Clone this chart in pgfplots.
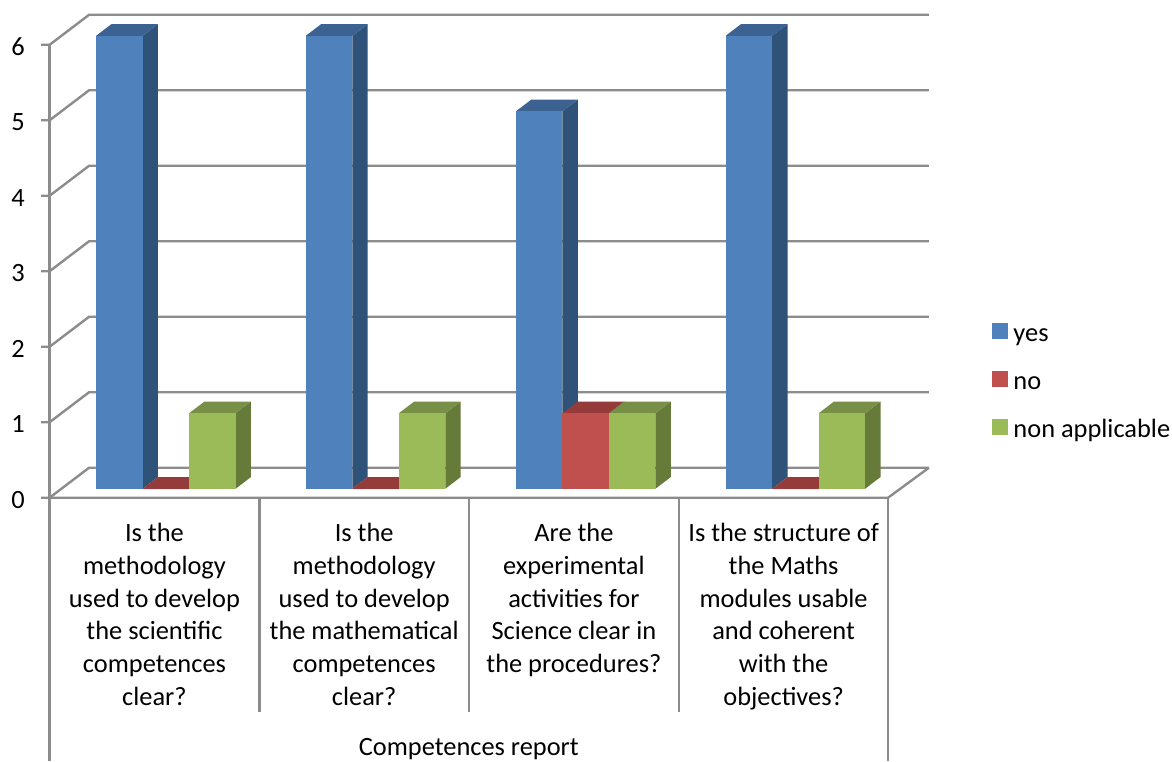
\documentclass[border=0pt]{standalone}
\usepackage{fontspec}
\setmainfont{Carlito}
\usepackage{pgfplots}
\pgfplotsset{compat=1.18}

\definecolor{gridgray}{HTML}{8C8C8C}
\definecolor{yesfront}{HTML}{4F81BD}
\definecolor{yesside}{HTML}{2F5279}
\definecolor{yestop}{HTML}{3B6290}
\definecolor{nofront}{HTML}{C0504D}
\definecolor{noside}{HTML}{7F3432}
\definecolor{notop}{HTML}{953B39}
\definecolor{nafront}{HTML}{9BBB59}
\definecolor{naside}{HTML}{667A3A}
\definecolor{natop}{HTML}{788F47}

% depth of a bar and of the floor, in data units
\def\bardx{0.0735}
\def\bardy{0.156}
\def\barbase{0.1185}
\def\barw{0.2217}
\def\wallx{0.1883}
\def\wally{0.3974}

% #1 left edge, #2 value, #3 colour prefix
\newcommand{\threedbar}[3]{%
  \pgfmathsetmacro\xa{#1}%
  \pgfmathsetmacro\xb{#1+\barw}%
  \pgfmathsetmacro\xc{#1+\barw+\bardx}%
  \pgfmathsetmacro\xd{#1+\bardx}%
  \pgfmathsetmacro\ya{\barbase}%
  \pgfmathsetmacro\yb{#2+\barbase}%
  \pgfmathsetmacro\yc{#2+\barbase+\bardy}%
  \pgfmathsetmacro\yd{\barbase+\bardy}%
  \addplot[forget plot,draw=none,fill=#3side] coordinates {(\xb,\ya)(\xb,\yb)(\xc,\yc)(\xc,\yd)};
  \addplot[forget plot,draw=none,fill=#3top] coordinates {(\xa,\yb)(\xb,\yb)(\xc,\yc)(\xd,\yc)};
  \addplot[forget plot,draw=none,fill=#3front] coordinates {(\xa,\ya)(\xb,\ya)(\xb,\yb)(\xa,\yb)};
}
% one level of the wall: front edge, tick, back line
\newcommand{\walline}[1]{%
  \pgfmathsetmacro\ya{#1}%
  \pgfmathsetmacro\yb{#1+\wally}%
  \addplot[forget plot,gridgray,line width=2.4pt] coordinates {(-0.04,\ya)(0,\ya)(\wallx,\yb)(4.193,\yb)};
}

\begin{document}
\begin{tikzpicture}
\begin{axis}[
    scale only axis,
    width=1172pt, height=761pt,
    xmin=-0.236, xmax=5.3516,
    ymin=-3.4874, ymax=6.592,
    axis line style={draw=none},
    major tick length=0pt,
    font=\fontsize{26.4}{32.8}\selectfont,
    ytick={0,1,2,3,4,5,6},
    /pgf/number format/assume math mode=true,
    yticklabel style={anchor=west,inner sep=0pt,xshift=11pt,yshift=-2pt},
    xtick={0.5,1.5,2.5,3.5},
    xticklabels={
      {Is the\\methodology\\used to develop\\the scientific\\competences\\clear?},
      {Is the\\methodology\\used to develop\\the mathematical\\competences\\clear?},
      {Are the\\experimental\\activities for\\Science clear in\\the procedures?},
      {Is the structure of\\the Maths\\modules usable\\and coherent\\with the\\objectives?}},
    xticklabel style={align=center,anchor=north,inner sep=0pt,yshift=238pt},
    legend style={at={(0.8464,0.4967)},anchor=west,draw=none,fill=none,inner sep=0pt,
      font=\fontsize{26.4}{30}\selectfont,row sep=24pt,
      nodes={inner sep=0pt,text height=18pt,text depth=6pt}},
    legend cell align=left,
    legend image code/.code={\fill[#1] (0pt,-3.5pt) rectangle (15pt,11.5pt);},
]
\addlegendimage{yesfront}\addlegendentry{\ yes}
\addlegendimage{nofront}\addlegendentry{\ no}
\addlegendimage{nafront}\addlegendentry{\ non applicable}

% wall and floor
\walline{0}\walline{1}\walline{2}\walline{3}\walline{4}\walline{5}\walline{6}
\addplot[forget plot,gridgray,line width=2.4pt] coordinates {(0,6)(0,-3.4874)};
\addplot[forget plot,gridgray,line width=2.4pt] coordinates {(0,0)(3.998,0)(4.193,0.3974)};
% table lines under the chart
\addplot[forget plot,gridgray,line width=2.4pt] coordinates {(1,0)(1,-2.84)};
\addplot[forget plot,gridgray,line width=2.4pt] coordinates {(2,0)(2,-2.84)};
\addplot[forget plot,gridgray,line width=2.4pt] coordinates {(3,0)(3,-2.84)};
\addplot[forget plot,gridgray,line width=2.4pt] coordinates {(3.998,0)(3.998,-3.4874)};

% category 1
\threedbar{0.2217}{6}{yes}
\threedbar{0.4434}{0}{no}
\threedbar{0.6651}{1}{na}
% category 2
\threedbar{1.2217}{6}{yes}
\threedbar{1.4434}{0}{no}
\threedbar{1.6651}{1}{na}
% category 3
\threedbar{2.2237}{5}{yes}
\threedbar{2.4454}{1}{no}
\threedbar{2.6671}{1}{na}
% category 4
\threedbar{3.2237}{6}{yes}
\threedbar{3.4454}{0}{no}
\threedbar{3.6671}{1}{na}

\node[anchor=center,inner sep=0pt] at (axis cs:1.999,-3.33) {Competences report};
\end{axis}
\end{tikzpicture}
\end{document}
